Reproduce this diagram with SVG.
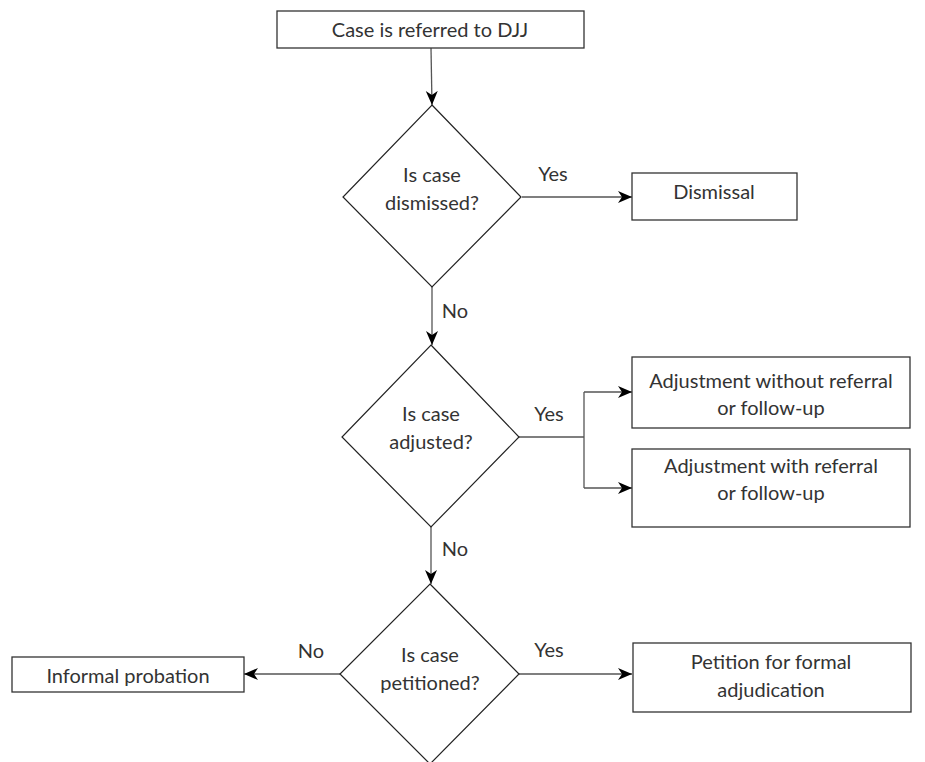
<svg xmlns="http://www.w3.org/2000/svg" width="925" height="762" viewBox="0 0 925 762">
<style>
  .box { fill: #fff; stroke: #333; stroke-width: 1.3; }
  .dia { fill: #fff; stroke: #222; stroke-width: 1.2; }
  .t { font-family: Lato, "Open Sans", "Liberation Sans", sans-serif; font-size: 20px; fill: #333; text-anchor: middle; }
  .c { fill: none; stroke: #555; stroke-width: 1.3; }
</style>
<defs>
  <marker id="ah" markerWidth="15" markerHeight="14" refX="14" refY="7" orient="auto" markerUnits="userSpaceOnUse">
    <path d="M0,1 L14,7 L0,13 L4,7 Z" fill="#000"/>
  </marker>
</defs>
<rect width="925" height="762" fill="#fff"/>
<g id="connectors">
  <line class="c" x1="431" y1="48" x2="432" y2="105" marker-end="url(#ah)"/>
  <line class="c" x1="522" y1="197" x2="632" y2="197" marker-end="url(#ah)"/>
  <line class="c" x1="432" y1="287" x2="432" y2="345" marker-end="url(#ah)"/>
  <polyline class="c" points="519,437 584,437"/>
  <polyline class="c" points="584,392 584,488"/>
  <line class="c" x1="584" y1="392" x2="632" y2="392" marker-end="url(#ah)"/>
  <line class="c" x1="584" y1="488" x2="632" y2="488" marker-end="url(#ah)"/>
  <line class="c" x1="431" y1="527" x2="431" y2="584" marker-end="url(#ah)"/>
  <line class="c" x1="340" y1="674" x2="244" y2="674" marker-end="url(#ah)"/>
  <line class="c" x1="519" y1="674" x2="632" y2="674" marker-end="url(#ah)"/>
  <text class="t" x="553" y="181">Yes</text>
  <text class="t" x="455" y="318">No</text>
  <text class="t" x="549" y="421">Yes</text>
  <text class="t" x="455" y="556">No</text>
  <text class="t" x="311" y="658">No</text>
  <text class="t" x="549" y="657">Yes</text>
</g>
<g id="start">
  <rect class="box" x="277" y="11" width="307" height="37"/>
  <text class="t" x="430" y="37">Case is referred to DJJ</text>
</g>
<g id="q-dismissed">
  <polygon class="dia" points="432,105 521,197 432,287 343,197"/>
  <text class="t" x="432" y="182">Is case</text>
  <text class="t" x="432" y="210">dismissed?</text>
</g>
<g id="dismissal">
  <rect class="box" x="632" y="173" width="165" height="47"/>
  <text class="t" x="714" y="199">Dismissal</text>
</g>
<g id="q-adjusted">
  <polygon class="dia" points="431,345 519,437 431,527 342,437"/>
  <text class="t" x="431" y="421">Is case</text>
  <text class="t" x="431" y="449">adjusted?</text>
</g>
<g id="adj-without">
  <rect class="box" x="632" y="357" width="278" height="71"/>
  <text class="t" x="771" y="388">Adjustment without referral</text>
  <text class="t" x="771" y="415">or follow-up</text>
</g>
<g id="adj-with">
  <rect class="box" x="632" y="449" width="278" height="78"/>
  <text class="t" x="771" y="473">Adjustment with referral</text>
  <text class="t" x="771" y="500">or follow-up</text>
</g>
<g id="q-petitioned">
  <polygon class="dia" points="430,584 519,674 430,764 340,674"/>
  <text class="t" x="430" y="662">Is case</text>
  <text class="t" x="430" y="690">petitioned?</text>
</g>
<g id="informal">
  <rect class="box" x="12" y="657" width="232" height="35"/>
  <text class="t" x="128" y="683">Informal probation</text>
</g>
<g id="petition">
  <rect class="box" x="633" y="643" width="278" height="69"/>
  <text class="t" x="771" y="669">Petition for formal</text>
  <text class="t" x="771" y="697">adjudication</text>
</g>
</svg>
